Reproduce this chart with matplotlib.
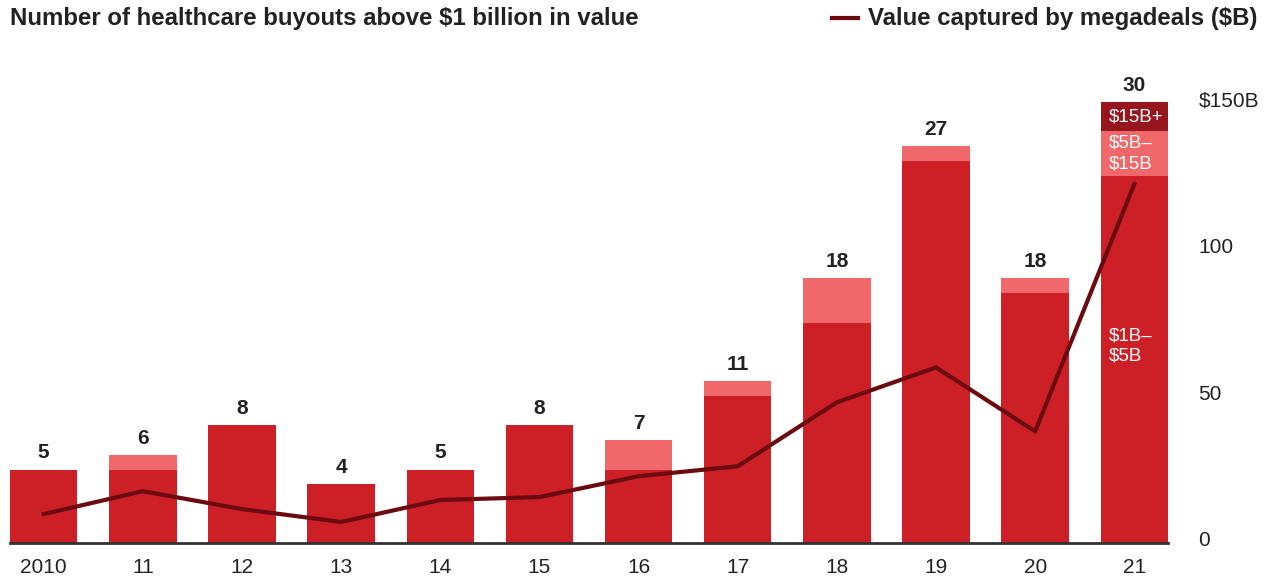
import matplotlib.pyplot as plt
import numpy as np

plt.rcParams['font.family'] = ['Liberation Sans', 'DejaVu Sans']

years = ["2010", "11", "12", "13", "14", "15", "16", "17", "18", "19", "20", "21"]
deals_1_5 = [5, 5, 8, 4, 5, 8, 5, 10, 15, 26, 17, 25]
deals_5_15 = [0, 1, 0, 0, 0, 0, 2, 1, 3, 1, 1, 3]
deals_15_plus = [0, 0, 0, 0, 0, 0, 0, 0, 0, 0, 0, 2]
value_captured = [8.5, 16.3, 10.2, 5.8, 13.3, 14.3, 21.4, 24.8, 46.6, 58.5, 36.7, 121]

C_MID = "#CC1F26"
C_LIGHT = "#F0686A"
C_DARK = "#97151C"
C_LINE = "#6B0A0F"
TXT = "#222222"

fig = plt.figure(figsize=(12.7, 5.8), dpi=100)
ax = fig.add_axes([10 / 1270, 1 - 543 / 580, 1158 / 1270, 483 / 580])

x = np.arange(len(years))
a = np.array(deals_1_5)
b = np.array(deals_5_15)
c = np.array(deals_15_plus)
w = 0.68
ax.bar(x, a, width=w, color=C_MID, zorder=2)
ax.bar(x, b, width=w, bottom=a, color=C_LIGHT, zorder=2)
ax.bar(x, c, width=w, bottom=a + b, color=C_DARK, zorder=2)

totals = a + b + c
for xi, t in zip(x, totals):
    ax.text(xi, t + 0.48, str(t), ha="center", va="bottom", fontsize=15,
            fontweight="bold", color=TXT)

ymax = 483 / 14.7
ax.set_ylim(0, ymax)
ax.set_xlim(-w / 2, len(years) - 1 + w / 2)
ax.set_xticks(x)
ax.set_xticklabels(years, fontsize=15, color=TXT)
ax.tick_params(axis="x", length=0, pad=11)
ax.set_yticks([])
for s in ["top", "right", "left"]:
    ax.spines[s].set_visible(False)
ax.spines["bottom"].set_color("#333333")
ax.spines["bottom"].set_linewidth(2)
ax.spines["bottom"].set_zorder(5)

# segment labels on last bar
xl = x[-1] - w / 2 + 0.08
ax.text(xl, a[-1] + b[-1] + c[-1] / 2, "$15B+", color="white", fontsize=13.5,
        va="center", ha="left", zorder=4)
ax.text(xl, a[-1] + b[-1] / 2, "$5B–\n$15B", color="white", fontsize=13.5,
        va="center", ha="left", linespacing=1.3, zorder=4)
ax.text(xl, 13.4, "$1B–\n$5B", color="white", fontsize=13.5,
        va="center", ha="left", linespacing=1.3, zorder=4)

ax2 = ax.twinx()
lo = -4 / 2.933
ax2.set_ylim(lo, lo + 483 / 2.933)
ax2.plot(x, value_captured, color=C_LINE, linewidth=3, zorder=3)
ax2.set_yticks([0, 50, 100, 150])
ax2.set_yticklabels(["0", "50", "100", "$150B"], fontsize=15, color=TXT)
ax2.tick_params(axis="y", length=0, pad=22)
for s in ["top", "right", "left", "bottom"]:
    ax2.spines[s].set_visible(False)

fig.text(10 / 1270, 1 - 19 / 580, "Number of healthcare buyouts above $1 billion in value",
         fontsize=17.3, fontweight="bold", color=TXT, va="center", ha="left")
fig.text(1258 / 1270, 1 - 19 / 580, "Value captured by megadeals ($B)",
         fontsize=17.3, fontweight="bold", color=TXT, va="center", ha="right")
fig.add_artist(plt.Line2D([832 / 1270, 858 / 1270], [1 - 18 / 580, 1 - 18 / 580],
                          color=C_LINE, linewidth=3))

fig.savefig("out.png", dpi=100, facecolor="white")
